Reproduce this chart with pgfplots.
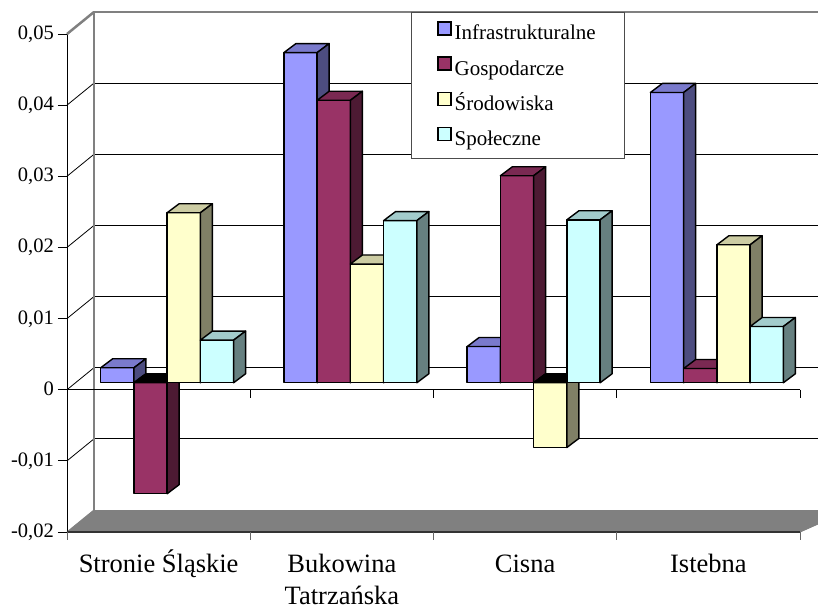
\documentclass[border=0pt]{standalone}
\usepackage{pgfplots}
\pgfplotsset{compat=1.18}
\usepackage{fontspec}
\setmainfont{Liberation Serif}
\definecolor{infra}{HTML}{9999FF}\definecolor{infraT}{HTML}{7A7ACC}\definecolor{infraS}{HTML}{4D4D80}
\definecolor{gosp}{HTML}{993366}\definecolor{gospT}{HTML}{7A2952}\definecolor{gospS}{HTML}{4D1A33}
\definecolor{srod}{HTML}{FFFFCC}\definecolor{srodT}{HTML}{CCCCA3}\definecolor{srodS}{HTML}{808066}
\definecolor{spol}{HTML}{CCFFFF}\definecolor{spolT}{HTML}{A3CCCC}\definecolor{spolS}{HTML}{668080}
\definecolor{wall}{HTML}{808080}
% #1 category index, #2 series index, #3 value, #4 front, #5 top, #6 side colour
\newcommand{\bbox}[6]{%
  \pgfmathsetmacro{\xa}{#1+0.5+(#2-2)*0.1814+0.0464}%
  \pgfmathsetmacro{\xb}{\xa+0.1814}%
  \pgfmathsetmacro{\xc}{\xa+0.0655}%
  \pgfmathsetmacro{\xd}{\xb+0.0655}%
  \pgfmathsetmacro{\yt}{max(#3,0)+0.000984}%
  \pgfmathsetmacro{\yb}{min(#3,0)+0.000984}%
  \pgfmathsetmacro{\ytt}{\yt+0.001265}%
  \pgfmathsetmacro{\ybb}{\yb+0.001265}%
  \edef\bboxdo{%
    \noexpand\addplot[forget plot,fill=#4,draw=black,line width=1.4pt,line join=round] coordinates {(\xa,\yb) (\xb,\yb) (\xb,\yt) (\xa,\yt)} -- cycle;%
    \noexpand\addplot[forget plot,fill=#5,draw=black,line width=1.4pt,line join=round] coordinates {(\xa,\yt) (\xb,\yt) (\xd,\ytt) (\xc,\ytt)} -- cycle;%
    \noexpand\addplot[forget plot,fill=#6,draw=black,line width=1.4pt,line join=round] coordinates {(\xb,\yb) (\xd,\ybb) (\xd,\ytt) (\xb,\yt)} -- cycle;%
  }%
  \bboxdo
}
\begin{document}
\begin{tikzpicture}
\useasboundingbox (0pt,0pt) rectangle (818pt,609pt);
\begin{axis}[
  at={(67pt,77pt)}, anchor=south west,
  width=733pt, height=498pt, scale only axis,
  xmin=0, xmax=4, ymin=-0.02, ymax=0.05,
  clip=false,
  separate axis lines,
  axis x line*=bottom, axis y line*=left,
  x axis line style={draw=none},
  y axis line style={-, black, line width=1pt},
  xtick={0.5,1.5,2.5,3.5},
  xticklabels={Stronie Śląskie,{\begin{tabular}[t]{@{}c@{}}Bukowina\\Tatrzańska\end{tabular}},Cisna,Istebna},
  xtick style={draw=none},
  xticklabel style={font=\fontsize{26.5}{32}\selectfont, anchor=north, inner sep=0pt, text height=19pt, yshift=-12pt},
  ytick={-0.02,-0.01,0,0.01,0.02,0.03,0.04,0.05},
  yticklabels={{-0,02},{-0,01},{0},{0,01},{0,02},{0,03},{0,04},{0,05}},
  scaled y ticks=false,
  ytick style={black, line width=0.8pt},
  tick align=outside, major tick length=9pt,
  yticklabel style={font=\fontsize{20.5}{24}\selectfont, inner sep=0pt, text height=13pt, text depth=0pt, xshift=-4pt, yshift=1pt},
  legend cell align=left,
  legend style={at={(0.4693,1.0442)}, anchor=north west, draw=black!70, line width=0.8pt, fill=white,
    font=\fontsize{21}{24}\selectfont, inner xsep=26pt, inner ysep=9pt, row sep=12.5pt,
    nodes={inner xsep=3pt, inner ysep=0pt, text height=14pt, text depth=4pt}},
  legend image code/.code={\draw[#1, draw=black, line width=1.2pt] (0pt,0pt) rectangle (13pt,13pt);},
]
% floor
\addplot[forget plot, fill=wall, draw=none] coordinates {(0,-0.02) (4,-0.02) (4.0982,-0.018876) (4.0982,-0.016908) (0.1473,-0.016908)} -- cycle;
\addplot[forget plot, wall, line width=1pt] coordinates {(0,-0.02) (0.1473,-0.016908)};
\addplot[forget plot, wall, line width=1pt] coordinates {(4,-0.02) (4.0982,-0.018876)};
\addplot[forget plot, black!80, line width=1.5pt] coordinates {(0,-0.02) (4,-0.02)};
\addplot[forget plot, black!60, line width=1pt, unbounded coords=jump] coordinates {
 (0,-0.02) (0,-0.021125) (0,nan) (1,-0.02) (1,-0.021125) (1,nan) (2,-0.02) (2,-0.021125) (2,nan)
 (3,-0.02) (3,-0.021125) (3,nan) (4,-0.02) (4,-0.021125)};
% back wall gridlines
\addplot[forget plot, black, line width=0.8pt, unbounded coords=jump] coordinates {
 (0.1473,-0.006908) (4.0982,-0.006908) (0,nan)
 (0.1473,0.003092) (4.0982,0.003092) (0,nan)
 (0.1473,0.013092) (4.0982,0.013092) (0,nan)
 (0.1473,0.023092) (4.0982,0.023092) (0,nan)
 (0.1473,0.033092) (4.0982,0.033092) (0,nan)
 (0.1473,0.043092) (4.0982,0.043092)};
% side wall diagonals
\addplot[forget plot, black, line width=0.8pt, unbounded coords=jump] coordinates {
 (0,-0.01) (0.1473,-0.006908) (0,nan)
 (0,0) (0.1473,0.003092) (0,nan)
 (0,0.01) (0.1473,0.013092) (0,nan)
 (0,0.02) (0.1473,0.023092) (0,nan)
 (0,0.03) (0.1473,0.033092) (0,nan)
 (0,0.04) (0.1473,0.043092)};
% back wall edges
\addplot[forget plot, wall, line width=2.5pt] coordinates {(0.1473,-0.016908) (0.1473,0.053092) (4.0982,0.053092)};
\addplot[forget plot, wall, line width=2.5pt] coordinates {(0,0.05) (0.1473,0.053092)};
% front zero line
\addplot[forget plot, black, line width=0.8pt] coordinates {(0,0) (4,0)};
\addplot[forget plot, black, line width=0.8pt, unbounded coords=jump] coordinates {
 (1,0) (1,-0.001125) (1,nan) (2,0) (2,-0.001125) (2,nan) (3,0) (3,-0.001125) (3,nan) (4,0) (4,-0.001125)};
% bars: Stronie Slaskie
\bbox{0}{0}{0.0021}{infra}{infraT}{infraS}
\bbox{0}{1}{-0.0156}{gosp}{black}{gospS}
\bbox{0}{2}{0.0239}{srod}{srodT}{srodS}
\bbox{0}{3}{0.0060}{spol}{spolT}{spolS}
% Bukowina Tatrzanska
\bbox{1}{0}{0.0464}{infra}{infraT}{infraS}
\bbox{1}{1}{0.0397}{gosp}{gospT}{gospS}
\bbox{1}{2}{0.0167}{srod}{srodT}{srodS}
\bbox{1}{3}{0.0228}{spol}{spolT}{spolS}
% Cisna
\bbox{2}{0}{0.0051}{infra}{infraT}{infraS}
\bbox{2}{1}{0.0291}{gosp}{gospT}{gospS}
\bbox{2}{2}{-0.0091}{srod}{black}{srodS}
\bbox{2}{3}{0.0229}{spol}{spolT}{spolS}
% Istebna
\bbox{3}{0}{0.0408}{infra}{infraT}{infraS}
\bbox{3}{1}{0.0020}{gosp}{gospT}{gospS}
\bbox{3}{2}{0.0194}{srod}{srodT}{srodS}
\bbox{3}{3}{0.0079}{spol}{spolT}{spolS}
% legend
\addlegendimage{fill=infra}\addlegendentry{Infrastrukturalne}
\addlegendimage{fill=gosp}\addlegendentry{Gospodarcze}
\addlegendimage{fill=srod}\addlegendentry{Środowiska}
\addlegendimage{fill=spol}\addlegendentry{Społeczne}
\end{axis}
\end{tikzpicture}
\end{document}
